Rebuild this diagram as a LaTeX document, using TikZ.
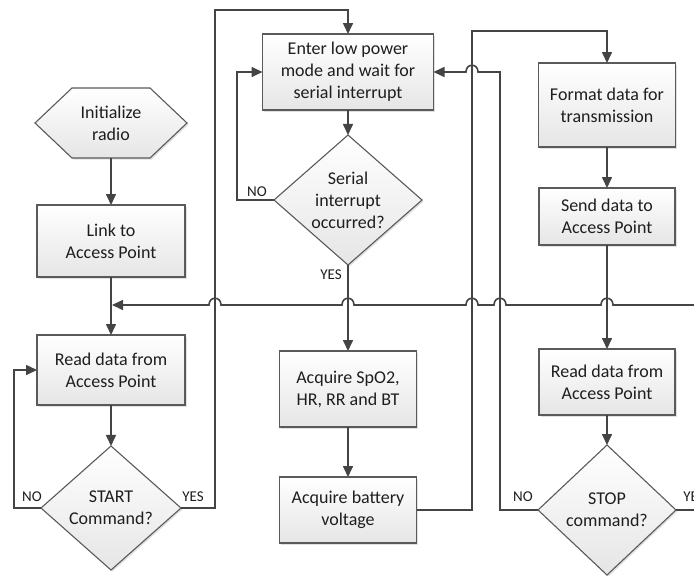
\documentclass[tikz,border=0pt]{standalone}
\usepackage{fontspec}
\setmainfont{Carlito}
\usetikzlibrary{arrows.meta,shapes.geometric,shadows,calc}
\definecolor{linec}{HTML}{444444}
\definecolor{boxline}{HTML}{5A5A5A}
\definecolor{textc}{HTML}{1E1E1E}
\begin{document}
\begin{tikzpicture}[x=1pt,y=-1pt,
  every node/.style={inner sep=0pt, outer sep=0pt},
  shapebox/.style={draw=boxline, line width=1.1pt, top color=white, bottom color=black!10,
    drop shadow={shadow xshift=1.5pt, shadow yshift=-1.5pt, opacity=0.3, fill=black!40}},
  stepbox/.style={shapebox, rectangle, align=center, text=textc, font=\fontsize{18}{22}\selectfont},
  decision/.style={shapebox, diamond},
  dtext/.style={align=center, text=textc, font=\fontsize{18}{22}\selectfont},
  lbl/.style={text=textc, font=\fontsize{15}{18}\selectfont},
  conn/.style={draw=linec, line width=1.6pt},
  arr/.style={conn, -{Triangle[length=11pt,width=10pt]}}
]
\useasboundingbox (0,0) rectangle (694,576);
\fill[white] (0,0) rectangle (694,576);

% left column
\path[shapebox] (35,123) -- (72,88) -- (150,88) -- (187,123) -- (150,158) -- (72,158) -- cycle;
\node[dtext, minimum width=152pt, minimum height=70pt] (init) at (111,123) {Initialize\\radio};
\node[stepbox, minimum width=148pt, minimum height=72pt] (link) at (111,241) {Link to\\Access Point};
\node[stepbox, minimum width=148pt, minimum height=70pt] (readL) at (111,370) {Read data from\\Access Point};
\node[decision, minimum width=140pt, minimum height=124pt,
  label={[dtext]center:START\\Command?}] (start) at (111,508) {};

% middle column
\node[stepbox, minimum width=171pt, minimum height=76pt] (enter) at (348,72) {Enter low power\\mode and wait for\\serial interrupt};
\node[decision, minimum width=148pt, minimum height=130pt,
  label={[dtext]center:Serial\\interrupt\\occurred?}] (serial) at (348,200) {};
\node[stepbox, minimum width=137pt, minimum height=76pt] (spo2) at (348,389) {Acquire SpO2,\\HR, RR and BT};
\node[stepbox, minimum width=137pt, minimum height=66pt] (batt) at (348,510) {Acquire battery\\voltage};

% right column
\node[stepbox, minimum width=137pt, minimum height=84pt] (format) at (607,105) {Format data for\\transmission};
\node[stepbox, minimum width=136pt, minimum height=57pt] (send) at (607,216.5) {Send data to\\Access Point};
\node[stepbox, minimum width=136pt, minimum height=66pt] (readR) at (607,382) {Read data from\\Access Point};
\node[decision, minimum width=138pt, minimum height=130pt,
  label={[dtext]center:STOP\\command?}] (stop) at (607,510) {};

\coordinate (merge) at (112,305);

% straight connectors
\draw[arr] (init) -- (link);
\draw[arr] (link) -- (readL);
\draw[arr] (readL) -- (start);
\draw[arr] (enter) -- (serial);
\draw[arr] (serial) -- (spo2);
\draw[arr] (spo2) -- (batt);
\draw[arr] (format) -- (send);
\draw[arr] (send) -- (readR);
\draw[arr] (readR) -- (stop);

% loops
\draw[arr] (start.west) -| (14,370) -- (readL.west);
\draw[arr] (start.east) -| (215,10) -| (enter.north);
\draw[arr] (serial.west) -| (237,72) -- (enter.west);
\draw[arr] (batt.east) -| (472,31) -| (format.north);
\draw[arr] (stop.west) -| (500,72) -- (478,72)
  .. controls (478,63) and (466,63) .. (466,72) -- (enter.east);
\draw[arr] (stop.east) -- (712,510) -- (712,305)
  -- (613,305) .. controls (613,296) and (601,296) .. (601,305)
  -- (506,305) .. controls (506,296) and (494,296) .. (494,305)
  -- (478,305) .. controls (478,296) and (466,296) .. (466,305)
  -- (354,305) .. controls (354,296) and (342,296) .. (342,305)
  -- (221,305) .. controls (221,296) and (209,296) .. (209,305)
  -- (merge);

% labels
\node[lbl] (noA) at (32,497) {NO};
\node[lbl] (yesA) at (193,497) {YES};
\node[lbl] (noB) at (257,192) {NO};
\node[lbl] (yesB) at (331,275) {YES};
\node[lbl] (noC) at (523,497) {NO};
\node[lbl] (yesC) at (694,497) {YES};
\end{tikzpicture}
\end{document}
